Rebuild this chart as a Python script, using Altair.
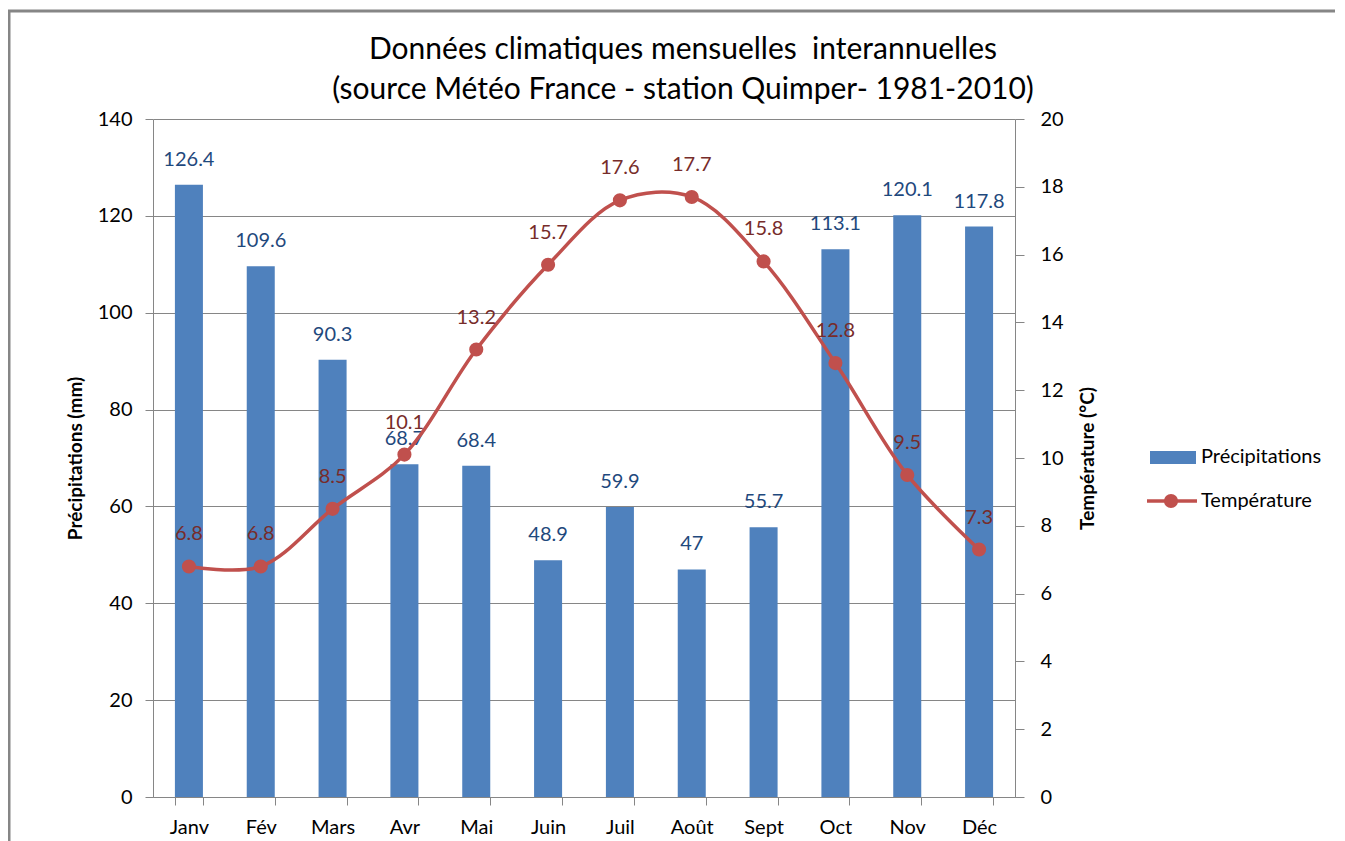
import altair as alt
import pandas as pd

months = ["Janv", "Fév", "Mars", "Avr", "Mai", "Juin", "Juil", "Août", "Sept", "Oct", "Nov", "Déc"]
precip = [126.4, 109.6, 90.3, 68.7, 68.4, 48.9, 59.9, 47, 55.7, 113.1, 120.1, 117.8]
temp = [6.8, 6.8, 8.5, 10.1, 13.2, 15.7, 17.6, 17.7, 15.8, 12.8, 9.5, 7.3]
precip_ticks = [0, 20, 40, 60, 80, 100, 120, 140]
temp_ticks = [0, 2, 4, 6, 8, 10, 12, 14, 16, 18, 20]
title_lines = ["Données climatiques mensuelles\u00a0 interannuelles",
               "(source Météo France - station Quimper- 1981-2010)"]
legend_labels = ["Précipitations", "Température"]

FONT = "Lato"
BLUE = "#4F81BD"
RED = "#C0504D"
GRAY = "#868686"
W, H = 862, 678

df = pd.DataFrame({
    "mois": months,
    "precip": precip,
    "temp": temp,
    "plabel": [f"{v:g}" for v in precip],
    "tlabel": [f"{v:g}" for v in temp],
})

x = alt.X("mois:N", sort=months,
          scale=alt.Scale(paddingInner=0.61, paddingOuter=0.305),
          axis=alt.Axis(title=None, labelAngle=0, tickBand="extent", labelFont=FONT,
                        labelFontSize=20, labelColor="#000000", labelPadding=12,
                        tickSize=8, tickColor=GRAY, domainColor=GRAY, grid=False))

axis_left = alt.Axis(values=precip_ticks, title="Précipitations (mm)", titleFont=FONT,
                     titleFontSize=19, titleFontWeight="bold", titleColor="#000000",
                     titleAngle=270, titleX=-78, titleY=H / 2, titleAlign="center",
                     titleBaseline="middle",
                     labelFont=FONT, labelFontSize=20, labelColor="#000000", labelPadding=13,
                     tickSize=8, tickColor=GRAY, domainColor=GRAY, grid=True,
                     gridColor=GRAY, orient="left")
axis_right = alt.Axis(values=temp_ticks, title="Température (°C)", titleFont=FONT,
                      titleFontSize=19, titleFontWeight="bold", titleColor="#000000",
                      titleAngle=270, titleX=72, titleY=H / 2, titleAlign="center",
                      titleBaseline="middle",
                      labelFont=FONT, labelFontSize=20, labelColor="#000000", labelPadding=16,
                      tickSize=9, tickColor=GRAY, domainColor=GRAY, grid=False,
                      orient="right")

base = alt.Chart(df)
yL = alt.Y("precip:Q", scale=alt.Scale(domain=[0, 140]), axis=axis_left)
yR = alt.Y("temp:Q", scale=alt.Scale(domain=[0, 20]), axis=axis_right)

bars = base.mark_bar(color=BLUE).encode(x=x, y=yL)
bar_labels = base.mark_text(font=FONT, fontSize=20, color="#1F497D", baseline="middle",
                            dy=-25).encode(x=x, y=yL, text="plabel:N")
left = alt.layer(bars, bar_labels)

line = base.mark_line(color=RED, strokeWidth=3.5, interpolate="catmull-rom").encode(x=x, y=yR)
pts = base.mark_point(filled=True, color=RED, opacity=1, size=200).encode(x=x, y=yR)
t_labels = base.mark_text(font=FONT, fontSize=20, color="#772C2A", baseline="middle",
                          dy=-32).encode(x=x, y=yR, text="tlabel:N")
right = alt.layer(line, pts, t_labels)

one = alt.Chart(pd.DataFrame({"k": [0]}))

# Titles
title_marks = []
for txt, yy in zip(title_lines, [-69, -29]):
    title_marks.append(
        one.mark_text(font=FONT, fontSize=30, color="#000000", align="center",
                      baseline="middle").encode(x=alt.value(530), y=alt.value(yy),
                                                text=alt.value(txt)))

# Outer border (left and top)
border_left = one.mark_rule(color=GRAY, strokeWidth=3).encode(
    x=alt.value(-144), y=alt.value(-108), y2=alt.value(H + 60))
border_top = one.mark_rule(color=GRAY, strokeWidth=3).encode(
    x=alt.value(-145), x2=alt.value(1187), y=alt.value(-108))

# Legend
leg_rect = one.mark_rect(color=BLUE).encode(
    x=alt.value(997), x2=alt.value(1043), y=alt.value(332), y2=alt.value(345))
leg_line = one.mark_rule(color=RED, strokeWidth=3.5).encode(
    x=alt.value(994), x2=alt.value(1044), y=alt.value(382))
leg_pt = one.mark_point(filled=True, color=RED, opacity=1, size=200).encode(
    x=alt.value(1018), y=alt.value(382))
leg_text = []
for lab, yy in zip(legend_labels, [338, 382]):
    leg_text.append(one.mark_text(font=FONT, fontSize=20, color="#000000", align="left",
                                  baseline="middle").encode(
        x=alt.value(1048), y=alt.value(yy), text=alt.value(lab)))

main = alt.layer(left, right).resolve_scale(y="independent")

chart = alt.layer(
    main, border_left, border_top, *title_marks, leg_rect, leg_line, leg_pt, *leg_text
).properties(
    width=W, height=H,
    autosize=alt.AutoSizeParams(type="none"),
    padding={"left": 145, "top": 111, "right": 320, "bottom": 44},
).configure_view(strokeWidth=0)

chart.save("out.html", embed_options={"renderer": "svg", "actions": False})
